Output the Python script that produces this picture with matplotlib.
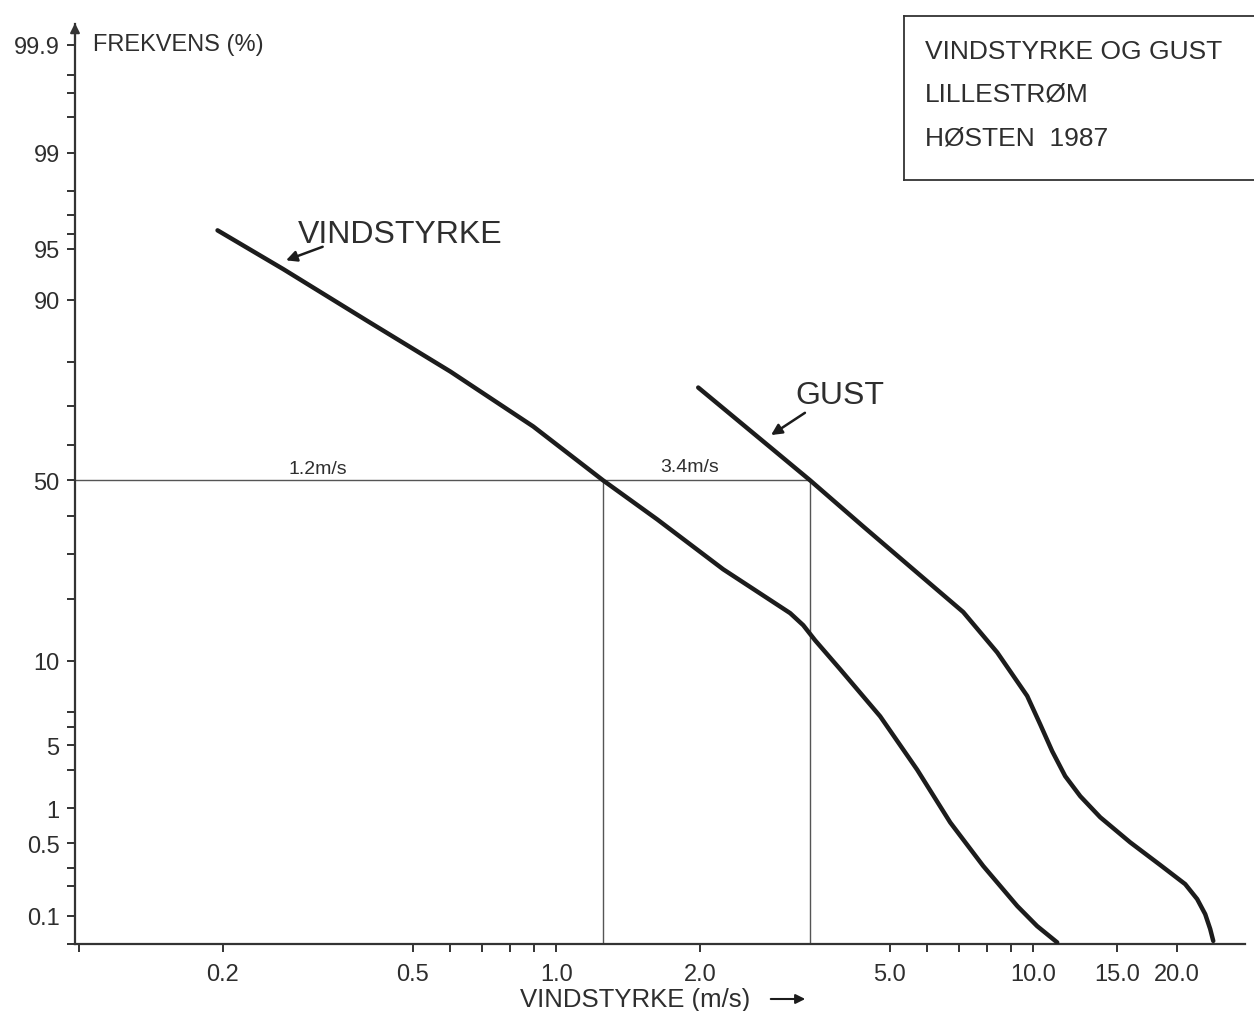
import math
import matplotlib
matplotlib.use('Agg')
import matplotlib.pyplot as plt
from matplotlib.ticker import FixedLocator, NullFormatter
import numpy as np

plt.rcParams['font.family'] = ['Liberation Sans', 'DejaVu Sans']

# wind speed (m/s) vs frequency of exceedance (%)
vind_x = [0.195, 0.268, 0.402, 0.600, 0.895, 1.254, 1.628, 2.239, 2.850, 3.094,
          3.295, 3.491, 3.939, 4.777, 5.712, 6.699, 7.857, 9.26, 10.19, 11.23]
vind_p = [96.2, 93.3, 87.1, 78.0, 64.9, 50.0, 39.1, 26.4, 19.4, 17.3,
          15.2, 12.8, 9.0, 4.7, 2.0, 0.76, 0.31, 0.126, 0.078, 0.052]

gust_x = [1.985, 2.81, 3.407, 4.40, 5.603, 7.133, 8.405, 9.714, 10.34, 10.96,
          11.67, 12.55, 13.82, 15.97, 18.46, 20.83, 22.07, 22.94, 23.50, 23.85]
gust_p = [74.5, 59.3, 50.0, 37.2, 26.4, 17.5, 11.1, 6.3, 4.18, 2.73,
          1.79, 1.25, 0.84, 0.51, 0.317, 0.208, 0.148, 0.104, 0.0726, 0.054]

medians = [1.254, 3.407]
median_labels = ['1.2m/s', '3.4m/s']

y_major = [0.1, 0.5, 1, 3, 10, 50, 90, 95, 99, 99.9]
y_major_labels = ['0.1', '0.5', '1', '5', '10', '50', '90', '95', '99', '99.9']
y_minor = [0.05, 0.2, 0.3, 2, 4, 5, 20, 30, 40, 60, 70, 80, 96, 97, 98, 99.5, 99.7, 99.8]

x_major = [0.2, 0.5, 1.0, 2.0, 5.0, 10.0, 15.0, 20.0]
x_major_labels = ['0.2', '0.5', '1.0', '2.0', '5.0', '10.0', '15.0', '20.0']
x_minor = [0.1, 0.6, 0.7, 0.8, 0.9, 6, 7, 8, 9]

verf = np.vectorize(math.erf)


def cdf(z):
    return 0.5 * (1 + verf(np.asarray(z, float) / math.sqrt(2)))


def ppf(p):
    # percent -> normal quantile, by bisection
    p = np.clip(np.asarray(p, float) / 100.0, 1e-9, 1 - 1e-9)
    lo = np.full_like(p, -8.0)
    hi = np.full_like(p, 8.0)
    for _ in range(55):
        mid = (lo + hi) / 2
        below = cdf(mid) < p
        lo = np.where(below, mid, lo)
        hi = np.where(below, hi, mid)
    return (lo + hi) / 2


def inv(z):
    return 100.0 * cdf(z)


ink = '#1c1c1c'
txt = '#2e2e2e'

fig = plt.figure(figsize=(12.54, 10.12), dpi=100)
ax = fig.add_axes([75/1254, 1-945/1012, 1170/1254, 920/1012])
ax.set_xscale('log')
ax.set_yscale('function', functions=(ppf, inv))
ax.set_xlim(0.098, 27.8)
ax.set_ylim(0.05, 99.94)

# reference lines at the 50% level
ax.hlines(50, 0.098, medians[1], color='#555555', lw=1.0, zorder=1)
ax.vlines(medians, 0.05, 50, color='#555555', lw=1.0, zorder=1)

ax.plot(vind_x, vind_p, color=ink, lw=3.2, solid_capstyle='round',
        solid_joinstyle='round', zorder=3)
ax.plot(gust_x, gust_p, color=ink, lw=3.2, solid_capstyle='round',
        solid_joinstyle='round', zorder=3)

ax.text(0.317, 51, median_labels[0], fontsize=14, color=txt, ha='center', va='bottom')
ax.text(1.90, 51.6, median_labels[1], fontsize=14, color=txt, ha='center', va='bottom')

ax.text(0.287, 96.0, 'VINDSTYRKE', fontsize=23, color=txt, ha='left', va='center')
ax.annotate('', xy=(0.268, 94.0), xytext=(0.328, 95.2),
            arrowprops=dict(arrowstyle='-|>', color=ink, lw=1.8, mutation_scale=16))
ax.text(3.17, 72.8, 'GUST', fontsize=23, color=txt, ha='left', va='center')
ax.annotate('', xy=(2.79, 62.2), xytext=(3.36, 68.8),
            arrowprops=dict(arrowstyle='-|>', color=ink, lw=1.8, mutation_scale=16))

for s in ['top', 'right']:
    ax.spines[s].set_visible(False)
for s in ['left', 'bottom']:
    ax.spines[s].set_linewidth(1.6)
    ax.spines[s].set_color('#333333')

ax.yaxis.set_major_locator(FixedLocator(y_major))
ax.set_yticklabels(y_major_labels)
ax.yaxis.set_minor_locator(FixedLocator(y_minor))
ax.yaxis.set_minor_formatter(NullFormatter())
ax.xaxis.set_major_locator(FixedLocator(x_major))
ax.set_xticklabels(x_major_labels)
ax.xaxis.set_minor_locator(FixedLocator(x_minor))
ax.xaxis.set_minor_formatter(NullFormatter())
ax.tick_params(which='both', direction='out', length=6, width=1.4, color='#333333')
ax.tick_params(axis='y', which='both', pad=5, labelsize=17, labelcolor=txt)
ax.tick_params(axis='x', which='both', pad=8, labelsize=17, labelcolor=txt)

# arrow on top of y axis
ax.annotate('', xy=(0, 1.004), xytext=(0, 0.975), xycoords='axes fraction',
            arrowprops=dict(arrowstyle='-|>', color='#333333', lw=1.5, mutation_scale=14))
ax.text(0.0154, 0.978, 'FREKVENS (%)', transform=ax.transAxes, fontsize=17,
        color=txt, ha='left', va='center')

fig.text(635/1254, 1-1000/1012, 'VINDSTYRKE (m/s)', fontsize=18.5, color=txt,
         ha='center', va='center')
fig.patches.append(matplotlib.patches.FancyArrowPatch(
    (768/1254, 1-1000/1012), (808/1254, 1-1000/1012), transform=fig.transFigure,
    arrowstyle='-|>', mutation_scale=14, color=ink, lw=1.5))

# title box in the upper right corner
bx0, by0, by1 = 904/1254, 1-181/1012, 1-17/1012
fig.add_artist(plt.Line2D([bx0, 1.0], [by1, by1], color='#333333', lw=1.3))
fig.add_artist(plt.Line2D([bx0, 1.0], [by0, by0], color='#333333', lw=1.3))
fig.add_artist(plt.Line2D([bx0, bx0], [by0, by1], color='#333333', lw=1.3))
for i, line in enumerate(['VINDSTYRKE OG GUST', 'LILLESTRØM', 'HØSTEN  1987']):
    fig.text(925/1254, 1-(52 + 43*i)/1012, line, fontsize=19, color=txt,
             ha='left', va='center')

fig.savefig('out.png', dpi=100)
